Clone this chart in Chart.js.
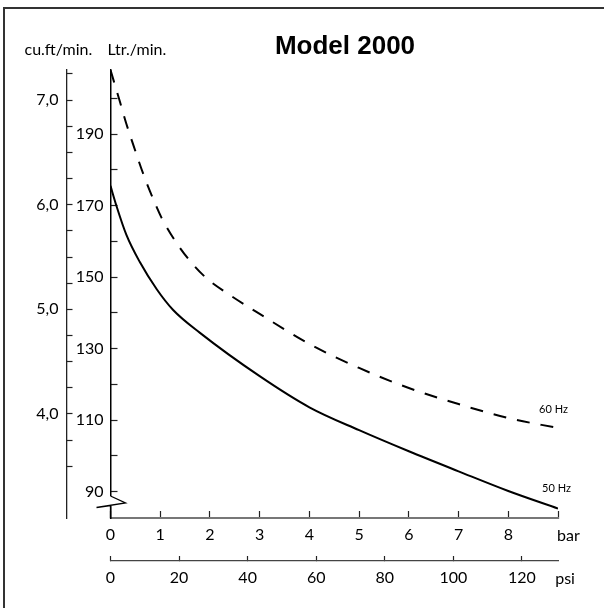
<!DOCTYPE html>
<html>
<head>
<meta charset="utf-8">
<script src="https://cdn.jsdelivr.net/npm/chart.js@4.4.1/dist/chart.umd.min.js"></script>
<style>
  html,body{margin:0;padding:0;background:#fff;}
  #wrap{position:relative;width:604px;height:608px;overflow:hidden;}
  #frame{position:absolute;left:3px;top:7px;right:-4px;bottom:-4px;border-left:2px solid #333;border-top:2px solid #333;}
  canvas{position:absolute;left:0;top:0;}
</style>
</head>
<body>
<div id="wrap"><div id="frame"></div><canvas id="chart" width="604" height="608"></canvas></div>
<script>
// Model 2000 ‚Äî caudal vs presion, curvas 50 Hz y 60 Hz

const BAR_MAX = 9;
const PSI_PER_BAR = 14.5038;

// 50 Hz (linea continua)
const bar50 = [0, 0.12, 0.32, 0.59, 0.93, 1.26, 1.8, 3, 4, 5, 6, 7, 8, 9];
const ltr50 = [175.5, 169.9, 161.8, 154.2, 146.6, 140.8, 134.4, 122.3, 113.6, 107.2, 101.3, 95.7, 90.2, 85.3];

// 60 Hz (linea cortada)
const bar60 = [0, 0.19, 0.32, 0.46, 0.66, 0.86, 1.03, 1.33, 1.6, 1.93, 2.4, 3, 4, 5, 6, 7, 8, 9];
const ltr60 = [207.9, 199.0, 192.8, 186.9, 178.8, 171.8, 166.5, 159.5, 154.5, 149.7, 145.0, 139.7, 131.3, 124.6, 119.0, 114.5, 110.6, 107.8];

// ticks
const barTicks = [0, 1, 2, 3, 4, 5, 6, 7, 8, 9];
const psiTicks = [0, 20, 40, 60, 80, 100, 120];
const ltrTicks = [90, 100, 110, 120, 130, 140, 150, 160, 170, 180, 190, 200];
const ltrLabels = [90, 110, 130, 150, 170, 190];
const cuftTicks = [3.5, 3.75, 4, 4.25, 4.5, 4.75, 5, 5.25, 5.5, 5.75, 6, 6.25, 6.5, 6.75, 7, 7.25];
const cuftLabels = [4, 5, 6, 7];

const FONT = {family: 'Lato', size: 16};
const INK = '#000';

function puntos(xs, ys){ return xs.map((v,i)=>({x:v, y:ys[i]})); }
function fijarTicks(lista){ return s => { s.ticks = lista.map(v=>({value:v})); }; }

const decoraciones = {
  id: 'decoraciones',
  afterDraw(chart){
    const {ctx, scales} = chart;
    const x = scales.x, y = scales.y, xp = scales.xpsi, yc = scales.ycu;
    const ax = x.getPixelForValue(0);
    ctx.save();

    // corte del eje Ltr
    const y0 = y.getPixelForValue(88.8);
    ctx.fillStyle = '#fff';
    ctx.fillRect(ax-2, y0, 4, 10);
    ctx.strokeStyle = '#000';
    ctx.lineWidth = 1.3;
    ctx.beginPath();
    ctx.moveTo(ax, y0);
    ctx.lineTo(ax+15, y0+7);
    ctx.lineTo(ax-14, y0+11.5);
    ctx.lineTo(ax, y0+9.5);
    ctx.lineTo(ax, y.bottom);
    ctx.stroke();

    ctx.fillStyle = INK;
    // titulo
    ctx.font = 'bold 26px "Liberation Sans", Arial, sans-serif';
    ctx.textAlign = 'center';
    ctx.textBaseline = 'alphabetic';
    ctx.fillText('Model 2000', 345, 54);

    // unidades
    ctx.font = '16px Lato';
    ctx.textAlign = 'left';
    ctx.fillText('cu.ft/min.', yc.right - 42, 55);
    ctx.fillText('Ltr./min.', ax - 3, 55);

    ctx.fillText('bar', x.getPixelForValue(BAR_MAX) - 1, x.top + 23);
    ctx.fillText('psi', xp.getPixelForValue(130) - 1, xp.top + 23);

    // etiquetas de series
    ctx.font = '11px Lato';
    ctx.textBaseline = 'middle';
    ctx.fillText('60 Hz', x.getPixelForValue(8.62), y.getPixelForValue(113));
    ctx.fillText('50 Hz', x.getPixelForValue(8.68), y.getPixelForValue(91));
    ctx.restore();
  }
};

new Chart(document.getElementById('chart'), {
  type: 'line',
  data: {
    datasets: [
      {
        label: '60 Hz', data: puntos(bar60, ltr60), xAxisID: 'x', yAxisID: 'y',
        borderColor: '#000', borderWidth: 2, borderDash: [13, 11],
        pointRadius: 0, cubicInterpolationMode: 'monotone', fill: false
      },
      {
        label: '50 Hz', data: puntos(bar50, ltr50), xAxisID: 'x', yAxisID: 'y',
        borderColor: '#000', borderWidth: 2,
        pointRadius: 0, cubicInterpolationMode: 'monotone', fill: false
      }
    ]
  },
  options: {
    responsive: false,
    animation: false,
    devicePixelRatio: 1,
    layout: { padding: { left: 5, right: 46, top: 70, bottom: 7 } },
    plugins: { legend: {display: false}, tooltip: {enabled: false} },
    scales: {
      x: {
        type: 'linear', position: 'bottom', min: 0, max: BAR_MAX,
        afterBuildTicks: fijarTicks(barTicks),
        afterFit: s => { s.height = 43; },
        border: {color: '#777', width: 2},
        grid: {drawOnChartArea: false, tickLength: -7, color: '#222', tickWidth: 1.2},
        ticks: {font: FONT, color: INK, padding: 14, autoSkip: false, maxRotation: 0,
                callback: v => v === BAR_MAX ? '' : String(v)}
      },
      xpsi: {
        type: 'linear', position: 'bottom', min: 0, max: BAR_MAX * PSI_PER_BAR,
        afterBuildTicks: fijarTicks(psiTicks),
        afterFit: s => { s.height = 40; },
        border: {color: '#444', width: 1.2},
        grid: {drawOnChartArea: false, tickLength: -5, color: '#222', tickWidth: 1.2},
        ticks: {font: FONT, color: INK, padding: 12, autoSkip: false, maxRotation: 0,
                callback: v => String(v)}
      },
      y: {
        type: 'linear', position: 'left', min: 82.65, max: 207.9,
        afterBuildTicks: fijarTicks(ltrTicks),
        afterFit: s => { s.width = 44; },
        border: {color: '#000', width: 1.5},
        grid: {drawOnChartArea: false, tickLength: -7, color: '#222', tickWidth: 1.2},
        ticks: {font: FONT, color: INK, padding: 14, autoSkip: false,
                callback: v => ltrLabels.includes(v) ? String(v) : ''}
      },
      ycu: {
        type: 'linear', position: 'left', min: 3.006, max: 7.287,
        afterBuildTicks: fijarTicks(cuftTicks),
        afterFit: s => { s.width = 61.5; },
        border: {color: '#222', width: 1.3},
        grid: {drawOnChartArea: false, tickLength: -6, color: '#222', tickWidth: 1.2},
        ticks: {font: FONT, color: INK, padding: 14, autoSkip: false,
                callback: v => cuftLabels.includes(v) ? v.toFixed(1).replace('.', ',') : ''}
      }
    }
  },
  plugins: [decoraciones]
});
</script>
</body>
</html>
